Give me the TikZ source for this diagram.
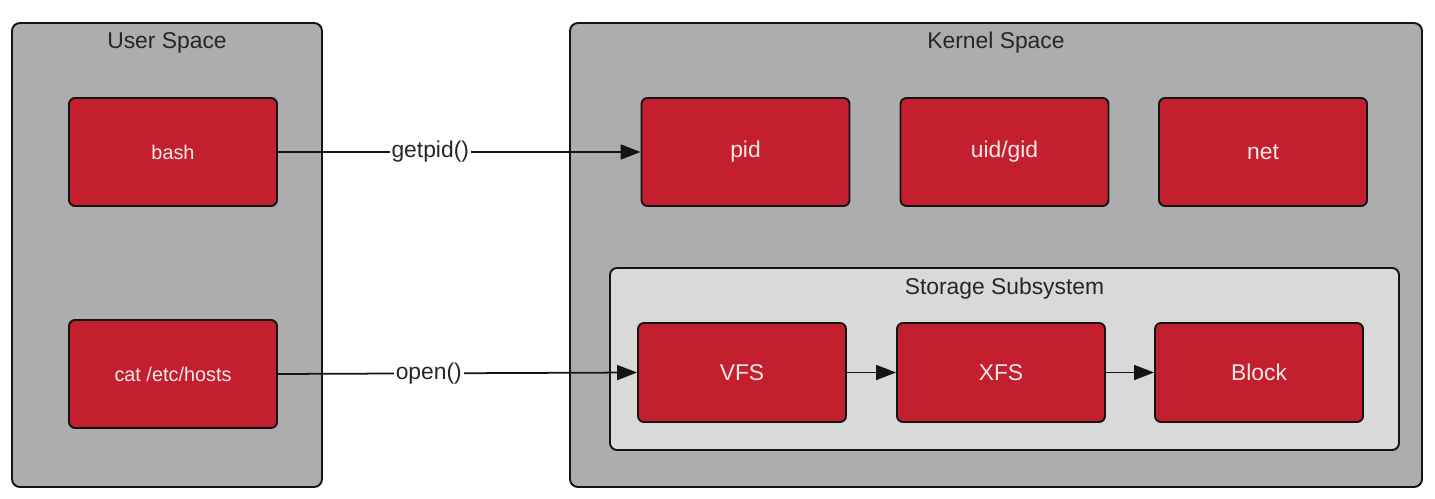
\documentclass[tikz,border=0pt]{standalone}
\usepackage{xcolor}
\usepackage{fontspec}
\setmainfont{Liberation Sans}
\usepackage{tikz}
\usetikzlibrary{shapes,arrows,positioning,calc,arrows.meta}
\definecolor{boxred}{HTML}{C41F2E}
\definecolor{spacegray}{HTML}{ADADAD}
\definecolor{subgray}{HTML}{D9D9D9}
\definecolor{edgedark}{HTML}{141414}
\definecolor{labelwhite}{HTML}{F4E8E8}

\begin{document}
\begin{tikzpicture}[
    space/.style={draw=edgedark, line width=1.1pt, fill=spacegray, rounded corners=0.16cm, minimum height=9.28cm},
    subspace/.style={draw=edgedark, line width=1.1pt, fill=subgray, rounded corners=0.14cm},
    title/.style={font=\fontsize{13}{15}\selectfont, text=black!85},
    proc/.style={draw=edgedark, line width=1.1pt, fill=boxred, rounded corners=0.12cm, minimum width=4.16cm, minimum height=2.16cm, text=labelwhite, font=\fontsize{11.3}{13}\selectfont},
    kern/.style={proc, minimum height=2.16cm, font=\fontsize{13}{15}\selectfont},
    store/.style={proc, minimum height=1.98cm, font=\fontsize{13}{15}\selectfont},
    call/.style={-{Triangle[length=0.4cm, width=0.3cm]}, line width=1pt, edgedark},
    callname/.style={fill=white, inner sep=1pt, font=\fontsize{13}{15}\selectfont, text=black!85}
]
    \useasboundingbox (0,0) rectangle (28.7,9.96);
    % the two spaces
    \node[space, minimum width=6.20cm] (user) at (3.34,4.86) {};
    \node[space, minimum width=17.04cm] (kernel) at (19.92,4.86) {};
    \node[title, below=0.08cm of user.north] (usertitle) {User Space};
    \node[title, below=0.08cm of kernel.north] (kerneltitle) {Kernel Space};
    % user processes
    \node[proc] (bash) at (3.46,6.92) {bash};
    \node[proc] (cat) at (3.46,2.48) {cat /etc/hosts};
    % kernel parts
    \node[kern] (pid) at (14.91,6.92) {pid};
    \node[kern] (uid) at (20.09,6.92) {uid/gid};
    \node[kern] (net) at (25.26,6.92) {net};
    % storage subsystem
    \node[subspace, minimum width=15.78cm, minimum height=3.64cm] (storage) at (20.09,2.78) {};
    \node[title, below=0.1cm of storage.north] (storagetitle) {Storage Subsystem};
    \node[store] (vfs) at (14.84,2.51) {VFS};
    \node[store] (xfs) at (20.02,2.51) {XFS};
    \node[store] (block) at (25.18,2.51) {Block};
    % calls
    \draw[call] (bash.east) -- (pid.west) node[callname, pos=0.42] {getpid()};
    \draw[call] (cat.east) -- (vfs.west) node[callname, pos=0.42] {open()};
    \draw[call] (vfs) -- (xfs);
    \draw[call] (xfs) -- (block);
\end{tikzpicture}
\end{document}
